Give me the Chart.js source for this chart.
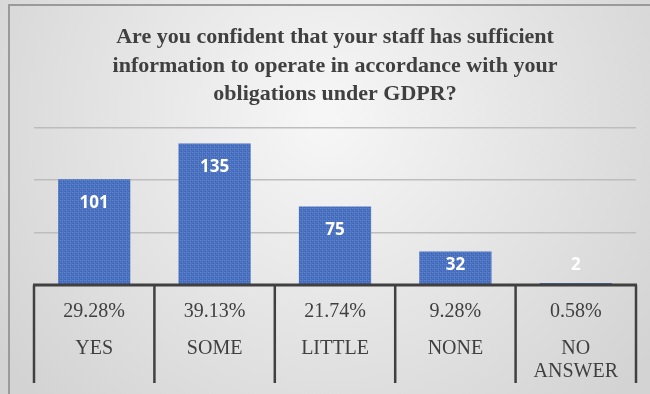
<!DOCTYPE html>
<html>
<head>
<meta charset="utf-8">
<script src="https://cdn.jsdelivr.net/npm/chart.js@4.4.1/dist/chart.umd.min.js"></script>
<style>
  html, body { margin: 0; padding: 0; background: #e6e6e6; }
  #wrap { width: 650px; height: 394px; position: relative; }
</style>
</head>
<body>
<div id="wrap"><canvas id="gdprChart" width="650" height="394"></canvas></div>
<script>
// chart data
var categories = ['YES', 'SOME', 'LITTLE', 'NONE', ['NO', 'ANSWER']];
var counts = [101, 135, 75, 32, 2];
var percents = ['29.28%', '39.13%', '21.74%', '9.28%', '0.58%'];
var yTicks = [0, 50, 100, 150];
var titleLines = [
  'Are you confident that your staff has sufficient',
  'information to operate in accordance with your',
  'obligations under GDPR?'
];

// dotted blue fill like the office texture
function barPattern() {
  var c = document.createElement('canvas');
  c.width = 4; c.height = 4;
  var g = c.getContext('2d');
  g.fillStyle = '#4a71bf';
  g.fillRect(0, 0, 4, 4);
  g.fillStyle = '#6186cf';
  g.fillRect(0, 0, 1, 1);
  g.fillRect(2, 2, 1, 1);
  g.fillRect(2, 0, 1, 1);
  g.fillStyle = '#3f66b4';
  g.fillRect(1, 3, 1, 1);
  g.fillRect(3, 1, 1, 1);
  return g.createPattern(c, 'repeat');
}

// background + frame
var backdrop = {
  id: 'backdrop',
  beforeDraw: function (chart) {
    var ctx = chart.ctx;
    var w = chart.width, h = chart.height;
    ctx.save();
    var grad = ctx.createRadialGradient(w * 0.5, h * 0.3, 10, w * 0.5, h * 0.3, w * 0.62);
    grad.addColorStop(0, '#f6f6f6');
    grad.addColorStop(1, '#d3d3d3');
    ctx.fillStyle = grad;
    ctx.fillRect(0, 0, w, h);
    ctx.strokeStyle = '#9a9a9a';
    ctx.lineWidth = 2;
    ctx.beginPath();
    ctx.moveTo(9, h);
    ctx.lineTo(9, 5);
    ctx.lineTo(w, 5);
    ctx.stroke();
    ctx.restore();
  }
};

// white value labels near the top of each bar
var valueLabels = {
  id: 'valueLabels',
  afterDatasetsDraw: function (chart) {
    var ctx = chart.ctx;
    var meta = chart.getDatasetMeta(0);
    ctx.save();
    ctx.fillStyle = '#ffffff';
    ctx.font = 'bold 17px "Open Sans", "Liberation Sans", Arial, sans-serif';
    ctx.textAlign = 'center';
    ctx.textBaseline = 'middle';
    meta.data.forEach(function (bar, i) {
      var y = Math.min(bar.y + 24, bar.base - 19);
      ctx.fillText(String(counts[i]), bar.x, y);
    });
    ctx.restore();
  }
};

// table under the axis: percentages and category names
var axisTable = {
  id: 'axisTable',
  afterDraw: function (chart) {
    var ctx = chart.ctx;
    var xs = chart.scales.x;
    var area = chart.chartArea;
    var n = categories.length;
    var step = (area.right - area.left) / n;
    ctx.save();
    ctx.strokeStyle = '#404040';
    ctx.lineWidth = 3;
    ctx.beginPath();
    ctx.moveTo(area.left - 1, area.bottom);
    ctx.lineTo(area.right + 1, area.bottom);
    ctx.stroke();
    ctx.lineWidth = 2.5;
    for (var k = 0; k <= n; k++) {
      var bx = area.left + k * step;
      ctx.beginPath();
      ctx.moveTo(bx, area.bottom);
      ctx.lineTo(bx, area.bottom + 98);
      ctx.stroke();
    }
    ctx.fillStyle = '#404040';
    ctx.font = '20px "Liberation Serif", "Times New Roman", serif';
    ctx.textAlign = 'center';
    ctx.textBaseline = 'middle';
    for (var i = 0; i < n; i++) {
      var cx = xs.getPixelForValue(i);
      ctx.fillText(percents[i], cx, area.bottom + 27);
      var lines = [].concat(categories[i]);
      lines.forEach(function (t, j) {
        ctx.fillText(t, cx, area.bottom + 64 + j * 23);
      });
    }
    ctx.restore();
  }
};

new Chart(document.getElementById('gdprChart'), {
  type: 'bar',
  data: {
    labels: categories.map(function (c) { return [].concat(c).join(' '); }),
    datasets: [{
      data: counts,
      backgroundColor: barPattern(),
      borderWidth: 0,
      categoryPercentage: 0.6,
      barPercentage: 1
    }]
  },
  options: {
    responsive: false,
    animation: false,
    layout: { padding: { left: 34, right: 14, top: 23, bottom: 109 } },
    plugins: {
      legend: { display: false },
      tooltip: { enabled: false },
      title: {
        display: true,
        text: titleLines,
        color: '#404040',
        font: { family: '"Liberation Serif", "Times New Roman", serif', size: 22, weight: 'bold', lineHeight: 1.3 },
        padding: { top: 0, bottom: 19 }
      }
    },
    scales: {
      x: { display: false },
      y: {
        min: yTicks[0],
        max: yTicks[yTicks.length - 1],
        afterBuildTicks: function (axis) {
          axis.ticks = yTicks.map(function (v) { return { value: v }; });
        },
        ticks: { display: false },
        border: { display: false },
        grid: { color: '#bdbdbd', lineWidth: 1.5, drawTicks: false }
      }
    }
  },
  plugins: [backdrop, valueLabels, axisTable]
});
</script>
</body>
</html>
